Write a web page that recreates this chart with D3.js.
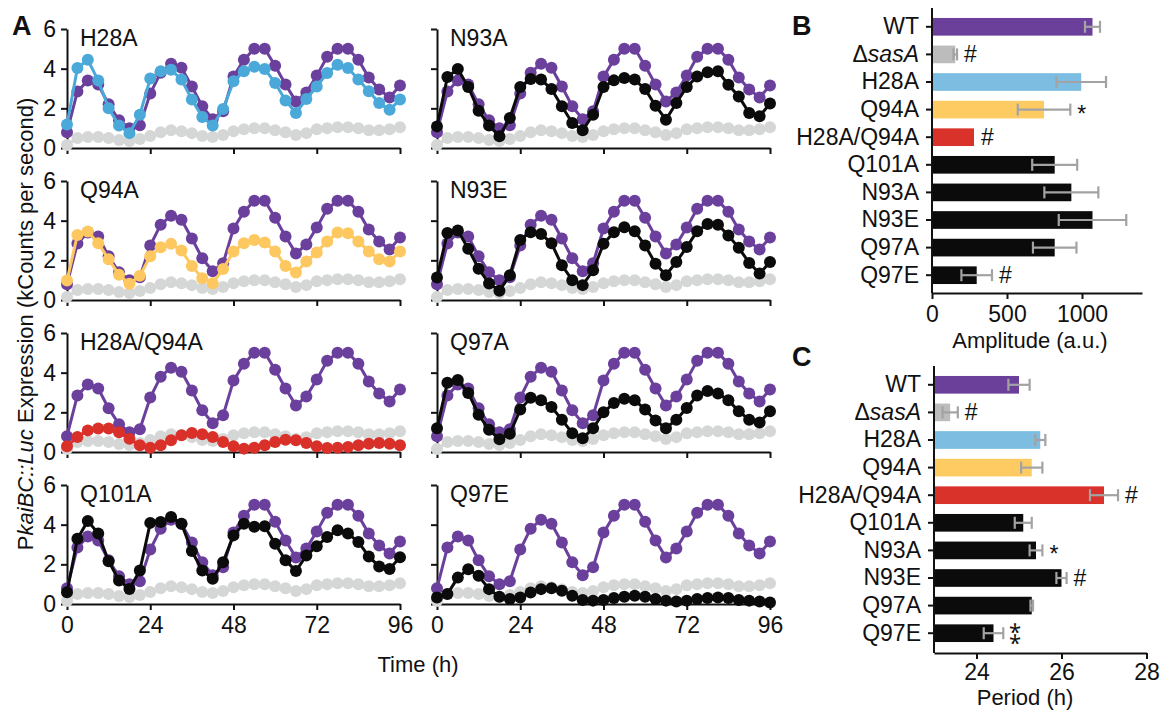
<!DOCTYPE html>
<html>
<head>
<meta charset="utf-8">
<script src="https://cdn.jsdelivr.net/npm/d3@7"></script>
<style>
  body { margin: 0; background: #ffffff; }
  svg text { font-family: "Liberation Sans", Arial, Helvetica, sans-serif; fill: #111111; }
</style>
</head>
<body>
<script>
// Sampling times (h), one reading every 3 h
var hours = d3.range(0, 97, 3);

// Reference strains, shown in every panel of A
var wt   = [0.8, 2.85, 3.4, 3.2, 2.2, 1.4, 1.0, 1.15, 2.75, 3.8, 4.25, 4.05, 3.1, 2.1, 1.45, 1.85, 3.6,
            4.45, 5.0, 5.0, 4.15, 3.2, 2.35, 2.8, 3.65, 4.6, 5.0, 5.0, 4.45, 3.55, 2.95, 2.55, 3.15];
var sasA = [0.15, 0.5, 0.55, 0.55, 0.5, 0.4, 0.35, 0.45, 0.6, 0.8, 0.9, 0.85, 0.75, 0.6, 0.55, 0.65, 0.85,
            0.95, 1.0, 1.0, 0.9, 0.8, 0.65, 0.75, 0.95, 1.0, 1.05, 1.05, 1.0, 0.9, 0.9, 0.95, 1.05];

// Mutants
var h28a  = [1.18, 4.03, 4.45, 3.4, 2.0, 1.13, 0.75, 1.68, 3.5, 3.87, 3.95, 3.45, 2.44, 1.56, 1.13, 1.97, 3.36,
             3.87, 4.1, 3.98, 3.28, 2.4, 1.76, 2.47, 3.1, 3.78, 4.2, 4.03, 3.45, 2.86, 2.27, 1.93, 2.44];
var q94a  = [0.98, 3.28, 3.45, 2.86, 2.06, 1.27, 0.82, 1.22, 2.2, 2.66, 2.83, 2.5, 1.72, 1.1, 0.85, 1.56, 2.45,
             2.86, 3.03, 2.9, 2.45, 1.72, 1.39, 1.94, 2.4, 2.95, 3.4, 3.37, 2.95, 2.45, 2.06, 1.94, 2.45];
var h28aQ94a = [0.29, 0.76, 1.09, 1.18, 1.18, 1.0, 0.67, 0.34, 0.22, 0.34, 0.59, 0.84, 0.96, 0.89, 0.76, 0.5, 0.29,
             0.17, 0.22, 0.34, 0.5, 0.62, 0.59, 0.45, 0.29, 0.2, 0.22, 0.25, 0.34, 0.42, 0.45, 0.42, 0.34];
var q101a = [0.59, 3.29, 4.19, 3.55, 2.16, 1.18, 0.76, 1.69, 4.09, 4.14, 4.39, 4.05, 2.67, 1.69, 1.27, 2.11, 3.46,
             4.05, 3.89, 3.92, 3.04, 2.2, 1.66, 2.45, 2.91, 3.38, 3.72, 3.55, 3.13, 2.4, 1.89, 1.77, 2.36];
var n93a  = [1.09, 3.58, 3.98, 3.08, 1.88, 1.13, 0.59, 1.51, 3.08, 3.48, 3.45, 2.97, 2.1, 1.26, 0.89, 1.68, 3.08,
             3.41, 3.53, 3.45, 2.97, 2.13, 1.43, 2.27, 3.08, 3.61, 3.82, 3.87, 3.19, 2.6, 1.76, 1.6, 2.24];
var n93e  = [1.14, 3.38, 3.5, 2.58, 1.58, 0.83, 0.47, 1.25, 3.03, 3.42, 3.33, 2.86, 1.75, 1.0, 0.75, 1.5, 2.83,
             3.42, 3.67, 3.47, 2.75, 1.83, 1.25, 1.92, 2.67, 3.47, 3.83, 3.8, 3.25, 2.63, 1.87, 1.33, 1.92];
var q97a  = [1.2, 3.49, 3.63, 2.98, 1.88, 1.12, 0.64, 0.92, 2.14, 2.73, 2.61, 2.27, 1.63, 0.95, 0.69, 1.2, 2.0,
             2.47, 2.68, 2.61, 2.14, 1.59, 1.2, 1.63, 2.22, 2.85, 3.07, 2.95, 2.61, 2.05, 1.63, 1.49, 2.05];
var q97e  = [0.33, 0.5, 1.33, 1.75, 1.42, 0.75, 0.37, 0.25, 0.33, 0.58, 0.75, 0.8, 0.67, 0.42, 0.2, 0.17, 0.2,
             0.3, 0.37, 0.42, 0.37, 0.25, 0.17, 0.13, 0.17, 0.25, 0.3, 0.33, 0.3, 0.2, 0.17, 0.13, 0.08];

// Summary bars (B: amplitude, C: period)
var strains    = ["WT", "\u0394sasA", "H28A", "Q94A", "H28A/Q94A", "Q101A", "N93A", "N93E", "Q97A", "Q97E"];
var ampMean    = [1070, 155, 995, 747, 280, 818, 929, 1070, 818, 298];
var ampErr     = [50, 12, 165, 175, 0, 150, 180, 225, 145, 102];
var ampMarks   = ["", "#", "", "*", "#", "", "", "", "", "#"];
var periodMean = [25.0, 23.38, 25.5, 25.3, 27.0, 25.1, 25.4, 26.0, 25.3, 24.4];
var periodErr  = [0.25, 0.18, 0.12, 0.25, 0.33, 0.2, 0.15, 0.12, 0.03, 0.23];
var periodMarks = ["", "#", "", "", "#", "", "*", "#", "", "**"];

// Colours
var purple = "#6b409c", grey = "#d5d7d6", blue = "#4ba9da", yellow = "#fec860",
    red = "#d9302a", black = "#0b0b0b";
var barColors = ["#6a409b", "#bcbcbc", "#7cbde1", "#fecb62", "#d9322b",
                 black, black, black, black, black];
var errColor = "#a3a3a3";

var panels = [
  {name: "H28A", values: h28a, color: blue, col: 0, row: 0},
  {name: "Q94A", values: q94a, color: yellow, col: 0, row: 1},
  {name: "H28A/Q94A", values: h28aQ94a, color: red, col: 0, row: 2},
  {name: "Q101A", values: q101a, color: black, col: 0, row: 3},
  {name: "N93A", values: n93a, color: black, col: 1, row: 0},
  {name: "N93E", values: n93e, color: black, col: 1, row: 1},
  {name: "Q97A", values: q97a, color: black, col: 1, row: 2},
  {name: "Q97E", values: q97e, color: black, col: 1, row: 3}
];

var svg = d3.select("body").append("svg").attr("width", 1168).attr("height", 711);
svg.append("rect").attr("width", 1168).attr("height", 711).attr("fill", "#ffffff");

// Makes an axis group look like the figure
function styleAxis(g, size) {
  g.attr("font-size", size).attr("font-family", null);
  g.select(".domain").attr("stroke", "#111").attr("stroke-width", 2);
  g.selectAll(".tick line").attr("stroke", "#111").attr("stroke-width", 2);
  g.selectAll(".tick text").attr("fill", "#111");
}

var intFmt = d3.format("d");

// ---------- Panel A ----------
var colLeft = [67, 437];
var plotW = 333, plotH = 119;
var line = d3.line();

panels.forEach(function(p) {
  var top = 29 + 152 * p.row;
  var x = d3.scaleLinear().domain([0, 96]).range([colLeft[p.col], colLeft[p.col] + plotW]);
  var y = d3.scaleLinear().domain([0, 6]).range([top + plotH, top]);
  var g = svg.append("g");

  var xAxis = d3.axisBottom(x).tickValues([0, 24, 48, 72, 96]).tickSize(6)
    .tickSizeOuter(0).tickPadding(7).tickFormat(p.row < 3 ? "" : intFmt);
  g.append("g").attr("transform", "translate(0," + y(0) + ")").call(xAxis)
    .call(styleAxis, 23);

  var yAxis = d3.axisLeft(y).tickValues([0, 2, 4, 6]).tickSize(6).tickSizeOuter(0)
    .tickPadding(5).tickFormat(p.col === 1 ? "" : intFmt);
  g.append("g").attr("transform", "translate(" + x(0) + ",0)").call(yAxis)
    .call(styleAxis, 23);

  [{v: sasA, c: grey}, {v: wt, c: purple}, {v: p.values, c: p.color}].forEach(function(s) {
    var pts = hours.map(function(h, i) { return [x(h), y(s.v[i])]; });
    g.append("path").attr("d", line(pts)).attr("fill", "none")
      .attr("stroke", s.c).attr("stroke-width", 3);
    g.selectAll(null).data(pts).enter().append("circle")
      .attr("cx", function(d) { return d[0]; })
      .attr("cy", function(d) { return d[1]; })
      .attr("r", 6).attr("fill", s.c);
  });

  g.append("text").attr("x", x(0) + 13).attr("y", top + 17)
    .attr("font-size", 23).text(p.name);
});

svg.append("text").attr("x", 418).attr("y", 672).attr("text-anchor", "middle")
  .attr("font-size", 22).text("Time (h)");

var yTitle = svg.append("text").attr("transform", "translate(33,324) rotate(-90)")
  .attr("text-anchor", "middle").attr("font-size", 22);
yTitle.append("tspan").text("P");
yTitle.append("tspan").attr("font-style", "italic").text("kaiBC::Luc");
yTitle.append("tspan").text(" Expression (kCounts per second)");

// ---------- Panels B and C ----------
function barPanel(opt) {
  var x = d3.scaleLinear().domain(opt.domain).range([opt.left, opt.right]);
  var y = d3.scaleBand().domain(strains).range([opt.top, opt.bottom]).paddingInner(0.36).paddingOuter(0.18);
  var g = svg.append("g");

  g.selectAll(null).data(strains).enter().append("rect")
    .attr("x", x(opt.domain[0]))
    .attr("y", function(d) { return y(d); })
    .attr("width", function(d, i) { return x(opt.mean[i]) - x(opt.domain[0]); })
    .attr("height", y.bandwidth())
    .attr("fill", function(d, i) { return barColors[i]; });

  strains.forEach(function(s, i) {
    var cy = y(s) + y.bandwidth() / 2;
    if (opt.err[i] > 0) {
      var x0 = x(opt.mean[i] - opt.err[i]), x1 = x(opt.mean[i] + opt.err[i]);
      g.append("line").attr("x1", x0).attr("x2", x1).attr("y1", cy).attr("y2", cy)
        .attr("stroke", errColor).attr("stroke-width", 2.2);
      [x0, x1].forEach(function(xx) {
        g.append("line").attr("x1", xx).attr("x2", xx).attr("y1", cy - 6).attr("y2", cy + 6)
          .attr("stroke", errColor).attr("stroke-width", 2.2);
      });
    }
    var mark = opt.marks[i];
    var mx = x(opt.mean[i] + opt.err[i]) + 7;
    if (mark === "#") {
      g.append("text").attr("x", mx).attr("y", cy + 8).attr("font-size", 23).text("#");
    } else if (mark === "*") {
      g.append("text").attr("x", mx).attr("y", cy + 12).attr("font-size", 23).text("*");
    } else if (mark === "**") {
      // two asterisks stacked, as one glyph
      g.append("text").attr("x", mx - 1).attr("y", cy + 7).attr("font-size", 22)
        .attr("font-family", "DejaVu Sans").text("\u2051");
    }
  });

  g.append("g").attr("transform", "translate(0," + opt.axisY + ")")
    .call(d3.axisBottom(x).tickValues(opt.ticks).tickSize(6).tickSizeOuter(0)
      .tickPadding(opt.pad).tickFormat(intFmt))
    .call(styleAxis, 23);

  var yAx = g.append("g").attr("transform", "translate(" + opt.left + ",0)")
    .call(d3.axisLeft(y).tickSize(6).tickSizeOuter(0).tickPadding(7))
    .call(styleAxis, 23);
  yAx.select(".domain").attr("d", "M0," + (opt.top - 5) + "V" + opt.axisY);
  yAx.selectAll(".tick text").each(function(d) {
    if (d.charAt(0) === "\u0394") {
      var t = d3.select(this).text("\u0394");
      t.append("tspan").attr("font-style", "italic").text(d.slice(1));
    }
  });

  g.append("text").attr("x", opt.titleX).attr("y", opt.titleY).attr("text-anchor", "middle")
    .attr("font-size", 22).text(opt.title);
}

barPanel({domain: [0, 1400], left: 932, right: 1142, top: 13, bottom: 289, axisY: 293,
  mean: ampMean, err: ampErr, marks: ampMarks, ticks: [0, 500, 1000], pad: 7,
  title: "Amplitude (a.u.)", titleX: 1030, titleY: 348});

barPanel({domain: [23, 28], left: 934, right: 1146.5, top: 371, bottom: 647, axisY: 653,
  mean: periodMean, err: periodErr, marks: periodMarks, ticks: [24, 26, 28], pad: 5,
  title: "Period (h)", titleX: 1025, titleY: 705});

// Panel letters
[["A", 12, 35], ["B", 792, 35], ["C", 792, 366]].forEach(function(l) {
  svg.append("text").attr("x", l[1]).attr("y", l[2]).attr("font-size", 27)
    .attr("font-weight", "bold").text(l[0]);
});
</script>
</body>
</html>
